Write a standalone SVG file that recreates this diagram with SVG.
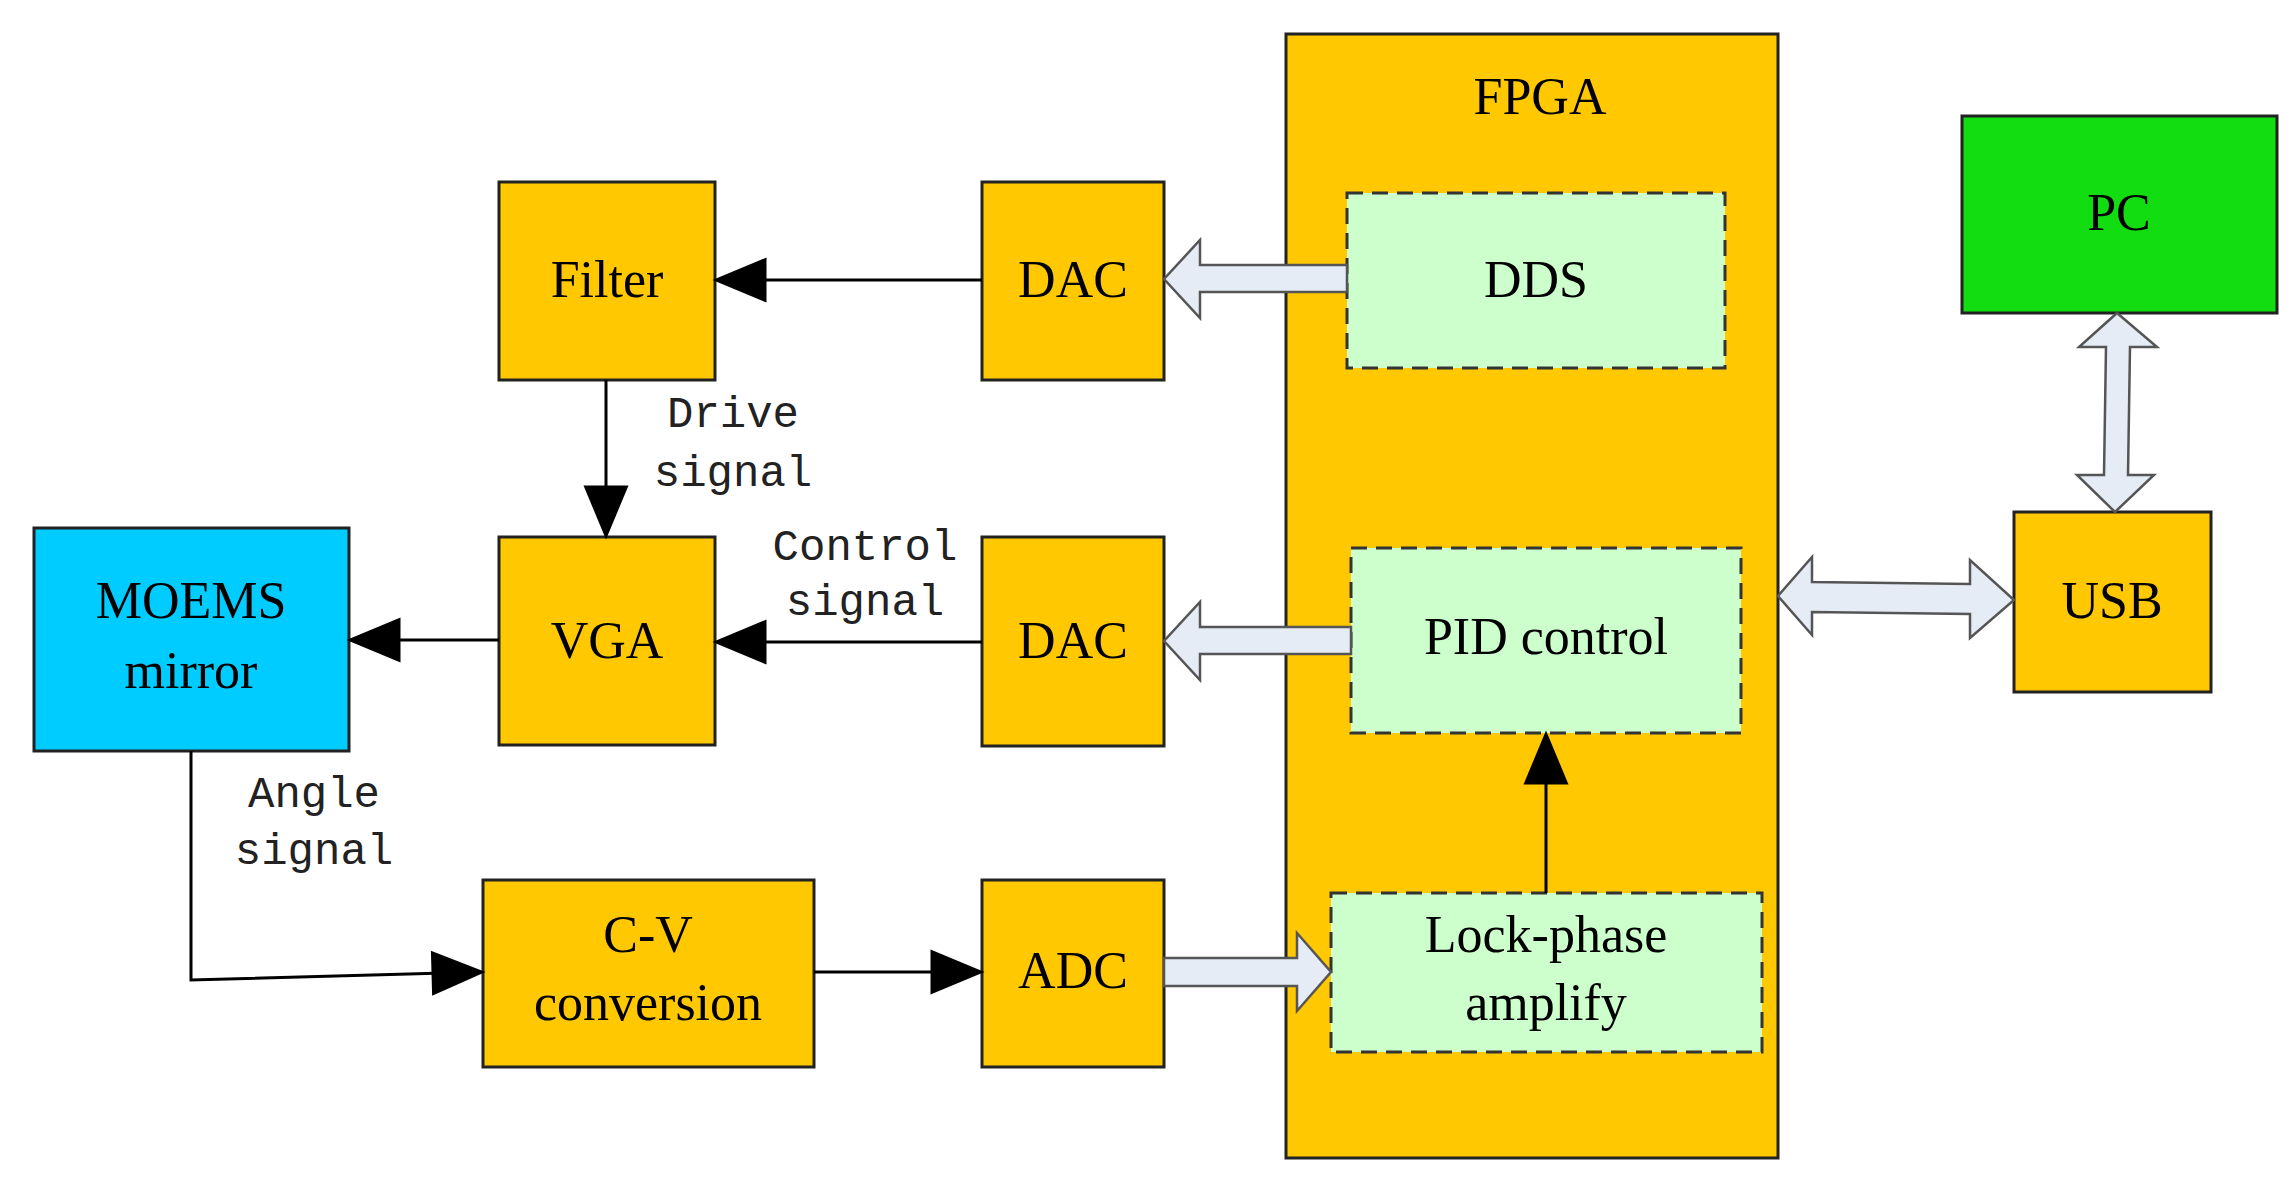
<svg xmlns="http://www.w3.org/2000/svg" width="2296" height="1192" viewBox="0 0 2296 1192">
<defs>
<style>
.o{fill:#FFC800;stroke:#222;stroke-width:3}
.g{fill:#CCFFCC;stroke:#333;stroke-width:3;stroke-dasharray:16 9}
.t{font-family:"Liberation Serif",serif;font-size:52px;text-anchor:middle;fill:#000}
.m{font-family:"Liberation Mono",monospace;font-size:44px;text-anchor:middle;fill:#222}
.c{fill:none;stroke:#000;stroke-width:3}
.b{fill:#E6ECF6;stroke:#555;stroke-width:2.5}
</style>
<marker id="a" markerWidth="12" markerHeight="10" refX="11" refY="5" orient="auto" markerUnits="userSpaceOnUse" viewBox="0 0 12 10" style="overflow:visible"><path d="M0,0 L12,5 L0,10 Z" fill="#000" transform="scale(4.5)" transform-origin="11 5"/></marker>
</defs>
<rect width="2296" height="1192" fill="#fff"/>
<g id="fpga"><rect class="o" x="1286" y="34" width="492" height="1124"/><text class="t" x="1540" y="114" font-size="60">FPGA</text></g>
<g id="filter"><rect class="o" x="499" y="182" width="216" height="198"/><text class="t" x="607" y="297">Filter</text></g>
<g id="dac1"><rect class="o" x="982" y="182" width="182" height="198"/><text class="t" x="1073" y="297">DAC</text></g>
<g id="dds"><rect class="g" x="1347" y="193" width="378" height="175"/><text class="t" x="1536" y="297">DDS</text></g>
<g id="pc"><rect x="1962" y="116" width="315" height="197" fill="#11DD11" stroke="#222" stroke-width="3"/><text class="t" x="2119" y="230" font-size="58">PC</text></g>
<g id="moems"><rect x="34" y="528" width="315" height="223" fill="#00CCFF" stroke="#222" stroke-width="3"/><text class="t" x="191" y="618">MOEMS</text><text class="t" x="191" y="688">mirror</text></g>
<g id="vga"><rect class="o" x="499" y="537" width="216" height="208"/><text class="t" x="607" y="658">VGA</text></g>
<g id="dac2"><rect class="o" x="982" y="537" width="182" height="209"/><text class="t" x="1073" y="658">DAC</text></g>
<g id="pid"><rect class="g" x="1351" y="548" width="390" height="185"/><text class="t" x="1546" y="654">PID control</text></g>
<g id="usb"><rect class="o" x="2014" y="512" width="197" height="180"/><text class="t" x="2112" y="618">USB</text></g>
<g id="cv"><rect class="o" x="483" y="880" width="331" height="187"/><text class="t" x="648" y="952">C-V</text><text class="t" x="648" y="1020">conversion</text></g>
<g id="adc"><rect class="o" x="982" y="880" width="182" height="187"/><text class="t" x="1073" y="988">ADC</text></g>
<g id="lock"><rect class="g" x="1331" y="893" width="431" height="159"/><text class="t" x="1546" y="952">Lock-phase</text><text class="t" x="1546" y="1020">amplify</text></g>
<g id="labels">
<text class="m" x="733" y="427">Drive</text><text class="m" x="733" y="486">signal</text>
<text class="m" x="865" y="560">Control</text><text class="m" x="865" y="615">signal</text>
<text class="m" x="314" y="807">Angle</text><text class="m" x="314" y="864">signal</text>
</g>
<g id="connectors">
<line class="c" x1="982" y1="280" x2="717" y2="280" marker-end="url(#a)"/>
<line class="c" x1="606" y1="380" x2="606" y2="535" marker-end="url(#a)"/>
<line class="c" x1="982" y1="642" x2="717" y2="642" marker-end="url(#a)"/>
<line class="c" x1="499" y1="640" x2="351" y2="640" marker-end="url(#a)"/>
<polyline class="c" points="191,751 191,980 481,972" marker-end="url(#a)"/>
<line class="c" x1="814" y1="972" x2="980" y2="972" marker-end="url(#a)"/>
<line class="c" x1="1546" y1="893" x2="1546" y2="735" marker-end="url(#a)"/>
<path class="b" d="M1347,265 L1200,265 L1200,240 L1164,279 L1200,318 L1200,292 L1347,292 Z"/>
<path class="b" d="M1351,627 L1200,627 L1200,602 L1164,641 L1200,680 L1200,654 L1351,654 Z"/>
<path class="b" d="M1164,958 L1297,958 L1297,933 L1331,972 L1297,1011 L1297,986 L1164,986 Z"/>
<path class="b" d="M1778,596 L1812,557 L1812,582 L1970,584 L1970,560 L2014,600 L1970,638 L1970,614 L1812,612 L1812,635 Z"/>
<path class="b" d="M2117,313 L2157,347 L2130,347 L2128,475 L2154,475 L2115,512 L2077,475 L2104,475 L2106,347 L2079,347 Z"/>
</g>
</svg>
